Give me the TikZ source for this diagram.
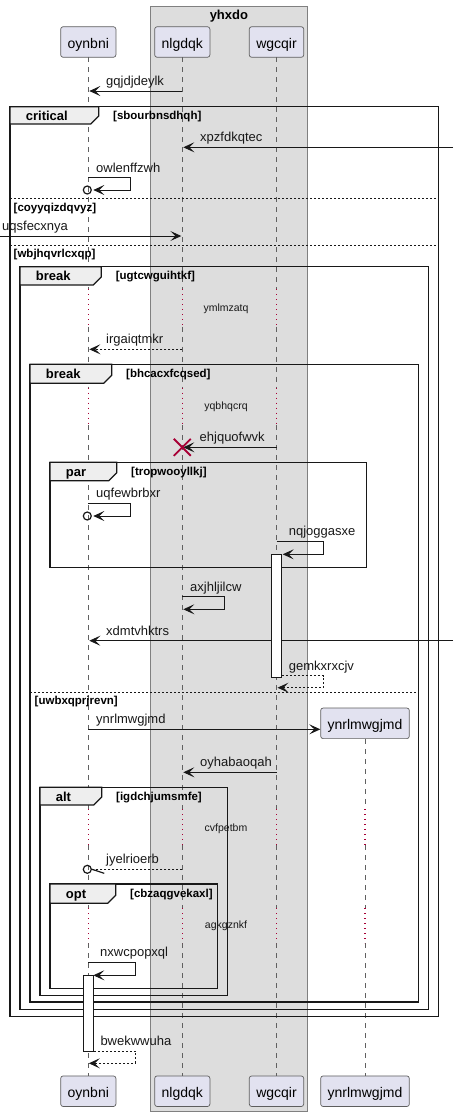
\documentclass[tikz,border=0pt]{standalone}
\usepackage{fontspec}
\setmainfont{Liberation Sans}
\usetikzlibrary{arrows.meta}

\definecolor{ink}{HTML}{181818}
\definecolor{partfill}{HTML}{E2E2F0}
\definecolor{partline}{HTML}{5E5E5E}
\definecolor{boxfill}{HTML}{DDDDDD}
\definecolor{boxline}{HTML}{808080}
\definecolor{tabfill}{HTML}{EEEEEE}
\definecolor{lifegray}{HTML}{606060}
\definecolor{delayred}{HTML}{A80036}

\tikzset{
  part/.style={draw=partline, fill=partfill, rounded corners=2.5pt, line width=0.7pt,
    minimum height=30.6pt, inner xsep=7pt, inner ysep=0pt, text height=13pt, text depth=1pt,
    font=\fontsize{14}{16}\selectfont},
  life/.style={draw=lifegray, line width=0.7pt, dash pattern=on 5pt off 5pt},
  delayline/.style={draw=delayred, line width=1.1pt, dash pattern=on 1pt off 4pt},
  delaytxt/.style={font=\fontsize{10.5}{12}\selectfont, inner sep=0pt, anchor=base, text=ink},
  msg/.style={draw=ink, line width=0.9pt, -{Stealth[length=11pt,width=10pt,inset=5pt]}},
  ret/.style={msg, dash pattern=on 2pt off 2pt},
  lbl/.style={font=\fontsize{13}{15}\selectfont, inner sep=0pt, anchor=base west, text=ink},
  frameline/.style={draw=ink, line width=1.5pt},
  tabshape/.style={draw=ink, fill=tabfill, line width=1.2pt},
  ftitle/.style={font=\bfseries\fontsize{13}{15}\selectfont, inner sep=0pt, anchor=base west},
  guard/.style={font=\bfseries\fontsize{11.5}{13}\selectfont, inner sep=0pt, anchor=base west},
  sepline/.style={draw=ink, line width=0.8pt, dash pattern=on 2pt off 2pt},
  act/.style={draw=ink, fill=white, line width=0.9pt, minimum width=10pt, inner sep=0pt, anchor=north},
  lostmark/.style={draw=ink, line width=1.2pt},
}

% combined fragment: x1, x2, top, bottom, tab right, tab bottom, keyword, guard, name
\newcommand\seqframe[9]{%
  \draw[frameline] (#1,#3) rectangle (#2,#4);
  \draw[tabshape] (#1,#3) -- (#5,#3) -- (#5,#6-8) -- (#5-8,#6) -- (#1,#6) -- cycle;
  \node[ftitle] (#9k) at (#1+15.7,#3+14) {#7};
  \node[guard] (#9g) at (#5+14.3,#3+13) {#8};
}

% lifeline pieces between pairs of heights
\newcommand\lifedash[2]{\foreach \a/\b in {#2} {\draw[life] (#1 |- 0,\a) -- (#1 |- 0,\b);}}
\newcommand\lifedelay[2]{\foreach \a/\b in {#2} {\draw[delayline] (#1 |- 0,\a) -- (#1 |- 0,\b);}}

\begin{document}
\begin{tikzpicture}[x=1pt, y=-1pt]
\useasboundingbox (0,0) rectangle (453,1117);

% group box
\draw[fill=boxfill, draw=boxline, line width=0.8pt] (150.5,6) rectangle (307.3,1111.5);
\node[font=\bfseries\fontsize{13}{15}\selectfont, anchor=base, inner sep=0pt] (grp) at (228.9,19.3) {yhxdo};

% participants
\node[part] (oyT) at (88.3,42) {oynbni};
\node[part] (nlT) at (182.3,42) {nlgdqk};
\node[part] (wgT) at (276.5,42) {wgcqir};
\node[part] (oyB) at (88.3,1091.2) {oynbni};
\node[part] (nlB) at (182.3,1091.2) {nlgdqk};
\node[part] (wgB) at (276.5,1091.2) {wgcqir};
\node[part] (ynT) at (365,723.3) {ynrlmwgjmd};
\node[part] (ynB) at (365,1091.2) {ynrlmwgjmd};

\coordinate (rEdge) at (453,0);
\coordinate (lEdge) at (0,0);

% lifelines
\foreach \p in {oyT,nlT,wgT} {
  \lifedash{\p}{57.3/289.3, 326.7/387.7, 425/809.3, 845/908, 943/1075.7}
  \lifedelay{\p}{289.3/326.7, 387.7/425, 809.3/845, 908/943}
}
\lifedash{ynT}{739/809.3, 845/908, 943/1075.7}
\lifedelay{ynT}{809.3/845, 908/943}

% delay texts
\node[delaytxt] (d1) at (226,311) {ymlmzatq};
\node[delaytxt] (d2) at (226,409.2) {yqbhqcrq};
\node[delaytxt] (d3) at (226,831) {cvfpetbm};
\node[delaytxt] (d4) at (226,928.5) {agkgznkf};

% fragments
\seqframe{10}{438.3}{106.7}{1016.7}{98.7}{124}{critical}{[sbourbnsdhqh]}{fcr}
\draw[sepline] (10,198.7) -- (438.3,198.7);
\node[guard] (g1) at (13.5,211) {[coyyqizdqvyz]};
\draw[sepline] (10,245.3) -- (438.3,245.3);
\node[guard] (g2) at (13.5,257.5) {[wbjhqvrlcxqp]};
\seqframe{20}{428.3}{266.7}{1009.3}{101.3}{285}{break}{[ugtcwguihtkf]}{fb1}
\seqframe{30}{418.3}{364.3}{1002}{111.7}{383.3}{break}{[bhcacxfcqsed]}{fb2}
\draw[sepline] (30,692.3) -- (418.3,692.3);
\node[guard] (g3) at (34.5,704.3) {[uwbxqprjrevn]};
\seqframe{50}{366.7}{462.3}{567.3}{116.7}{480.7}{par}{[tropwooyllkj]}{fpar}
\seqframe{40}{227.3}{787.3}{995.3}{101.7}{805}{alt}{[igdchjumsmfe]}{falt}
\seqframe{50}{217.3}{884}{988.3}{115.7}{903.3}{opt}{[cbzaqgvekaxl]}{fopt}

% messages
\draw[msg, shorten >=1pt] (nlT |- 0,91) -- (oyT |- 0,91);
\node[lbl] (l1) at (106,85.5) {gqjdjdeylk};

\draw[msg, shorten >=1pt] (rEdge |- 0,147.3) -- (nlT |- 0,147.3);
\node[lbl] (l2) at (200,141.5) {xpzfdkqtec};

\draw[msg, shorten >=5pt] (oyT |- 0,177.7) -| (130.7,190) -- (oyT |- 0,190);
\draw[lostmark] (oyT |- 0,190) ++(-1,0) circle[radius=4pt];
\node[lbl] (l3) at (96,172.2) {owlenffzwh};

\draw[msg, shorten >=1pt] (lEdge |- 0,236) -- (nlT |- 0,236);
\node[lbl] (l4) at (2,230.5) {uqsfecxnya};

\draw[ret, shorten >=1pt] (nlT |- 0,349.3) -- (oyT |- 0,349.3);
\node[lbl] (l5) at (106,343.8) {irgaiqtmkr};

\draw[msg, shorten >=1pt] (wgT |- 0,447.3) -- (nlT |- 0,447.3);
\node[lbl] (l6) at (199.5,441.8) {ehjquofwvk};
\draw[delayred, line width=1.8pt] (nlT |- 0,447.3) ++(-8.5,-8.5) -- ++(17,17) ++(0,-17) -- ++(-17,17);

\draw[msg, shorten >=5pt] (oyT |- 0,503.3) -| (130.3,516) -- (oyT |- 0,516);
\draw[lostmark] (oyT |- 0,516) ++(-1,0) circle[radius=4pt];
\node[lbl] (l7) at (96,497.8) {uqfewbrbxr};

\draw[msg, shorten >=6.2pt] (wgT |- 0,541.3) -| (323.3,554.3) -- (wgT |- 0,554.3);
\node[lbl] (l8) at (288.7,535.8) {nqjoggasxe};

\draw[msg, shorten >=1pt] (nlT |- 0,596.7) -| (224.7,609.3) -- (nlT |- 0,609.3);
\node[lbl] (l9) at (190,591.2) {axjhljilcw};

\draw[msg, shorten >=1pt] (rEdge |- 0,640.7) -- (oyT |- 0,640.7);
\node[lbl] (l10) at (106,635.2) {xdmtvhktrs};

\node[act, minimum height=122.4pt] (actW) at (wgT |- 0,554.3) {};

\draw[ret, shorten >=1pt] (actW.east |- 0,675.7) -| (323.3,687.7) -- (wgT |- 0,687.7);
\node[lbl] (l11) at (288.7,670.2) {gemkxrxcjv};

\draw[msg] (oyT |- 0,729.3) -- (ynT.west |- 0,729.3);
\node[lbl] (l12) at (96,723.8) {ynrlmwgjmd};

\draw[msg, shorten >=1pt] (wgT |- 0,772.3) -- (nlT |- 0,772.3);
\node[lbl] (l13) at (200,766.8) {oyhabaoqah};

\draw[draw=ink, line width=0.9pt, dash pattern=on 2pt off 2pt, shorten >=4.5pt] (nlT |- 0,869.3) -- (oyT |- 0,869.3);
\draw[lostmark] (oyT |- 0,869.3) ++(-1,0) circle[radius=4pt];
\draw[draw=ink, line width=1.2pt] (oyT |- 0,869.3) ++(3.7,0) -- ++(12.3,4);
\node[lbl] (l14) at (106,863.8) {jyelrioerb};

\draw[msg, shorten >=5pt] (oyT |- 0,962.3) -| (135.3,975.3) -- (oyT |- 0,975.3);
\node[lbl] (l15) at (100,956.8) {nxwcpopxql};

\node[act, minimum height=75.7pt] (actO) at (oyT |- 0,975.3) {};

\draw[ret, shorten >=0.5pt] (actO.east |- 0,1051) -| (135.3,1063.3) -- (oyT |- 0,1063.3);
\node[lbl] (l16) at (100.3,1045.5) {bwekwwuha};

\end{tikzpicture}
\end{document}
